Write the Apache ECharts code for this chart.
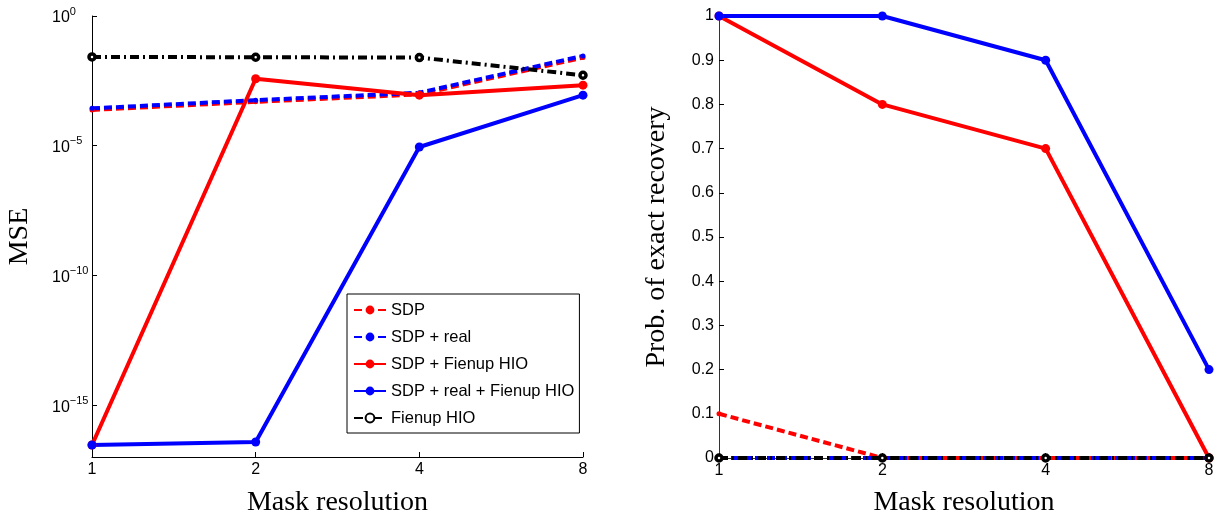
<!DOCTYPE html>
<html>
<head>
<meta charset="utf-8">
<script src="https://cdn.jsdelivr.net/npm/echarts@6/dist/echarts.min.js"></script>
<style>
html,body{margin:0;padding:0;background:#fff;}
#chart{width:1225px;height:525px;}
</style>
</head>
<body>
<div id="chart"></div>
<script>
// ---- data ----
const maskResolutions = ['1', '2', '4', '8'];
const seriesNames = ['SDP', 'SDP + real', 'SDP + Fienup HIO', 'SDP + real + Fienup HIO', 'Fienup HIO'];

// MSE (left panel, log scale)
const mseSDP            = [2.4e-4, 4.9e-4, 9.5e-4, 2.5e-2];
const mseSDPReal        = [2.75e-4, 5.7e-4, 1.1e-3, 2.9e-2];
const mseSDPFienup      = [2.9e-17, 3.8e-3, 8.9e-4, 2.16e-3];
const mseSDPRealFienup  = [2.9e-17, 3.8e-17, 8.9e-6, 8.9e-4];
const mseFienup         = [2.65e-2, 2.57e-2, 2.5e-2, 5.2e-3];
const mseTickValues     = [1e-15, 1e-10, 1e-5, 1];

// Probability of exact recovery (right panel)
const probSDP           = [0.1, 0, 0, 0];
const probSDPReal       = [0, 0, 0, 0];
const probSDPFienup     = [1, 0.8, 0.7, 0];
const probSDPRealFienup = [1, 1, 0.9, 0.2];
const probFienup        = [0, 0, 0, 0];

// ---- styles ----
const styles = [
  { color: '#ff0000', fill: '#ff0000', type: [8, 4], width: 4, size: 5, border: 0 },
  { color: '#0000ff', fill: '#0000ff', type: [8, 4], width: 4, size: 5, border: 0 },
  { color: '#ff0000', fill: '#ff0000', type: 'solid', width: 4, size: 9, border: 0 },
  { color: '#0000ff', fill: '#0000ff', type: 'solid', width: 4, size: 9, border: 0 },
  { color: '#000000', fill: '#ffffff', type: [9, 4, 2, 4], width: 4, size: 6, border: 3.5 }
];

const mseData = [mseSDP, mseSDPReal, mseSDPFienup, mseSDPRealFienup, mseFienup];
const probData = [probSDP, probSDPReal, probSDPFienup, probSDPRealFienup, probFienup];

function makeSeries(dataArr, axisIndex) {
  return dataArr.map((d, i) => {
    const s = styles[i];
    return {
      name: seriesNames[i],
      type: 'line',
      xAxisIndex: axisIndex,
      yAxisIndex: axisIndex,
      data: d,
      symbol: 'circle',
      symbolSize: s.size,
      showAllSymbol: true,
      clip: true,
      animation: false,
      lineStyle: { color: s.color, width: s.width, type: s.type, cap: 'butt' },
      itemStyle: { color: s.fill, borderColor: s.color, borderWidth: s.border },
      emphasis: { disabled: true }
    };
  });
}

const sansFont = '"Liberation Sans", Arial, Helvetica, sans-serif';
const serifFont = '"Liberation Serif", "Times New Roman", serif';
const supMinus = '\u2212';

const chart = echarts.init(document.getElementById('chart'), null, { renderer: 'canvas' });

const xAxisCommon = {
  type: 'category',
  data: maskResolutions,
  boundaryGap: false,
  name: 'Mask resolution',
  nameLocation: 'middle',
  nameMoveOverlap: false,
  nameTextStyle: { fontFamily: serifFont, fontSize: 28, color: '#000', align: 'center', verticalAlign: 'middle' },
  axisLine: { show: true, lineStyle: { color: '#000', width: 1 } },
  axisTick: { show: true, inside: true, length: 5, lineStyle: { color: '#000' } },
  axisLabel: { fontFamily: sansFont, fontSize: 16, color: '#000', margin: 5 },
  splitLine: { show: false }
};

const option = {
  backgroundColor: '#ffffff',
  animation: false,
  grid: [
    { left: 92, top: 16, width: 491, height: 441, outerBoundsMode: 'none', containLabel: false },
    { left: 719, top: 16, width: 490, height: 442, outerBoundsMode: 'none', containLabel: false }
  ],
  legend: {
    data: seriesNames,
    orient: 'vertical',
    left: 347,
    top: 294,
    padding: [7, 5, 6, 6],
    itemGap: 9,
    itemWidth: 32,
    itemHeight: 11,
    backgroundColor: '#fff',
    borderColor: '#000',
    borderWidth: 1,
    borderRadius: 0,
    selectedMode: false,
    textStyle: { fontFamily: sansFont, fontSize: 16.5, color: '#000', lineHeight: 18 }
  },
  xAxis: [
    Object.assign({}, xAxisCommon, { gridIndex: 0, nameGap: 46 }),
    Object.assign({}, xAxisCommon, { gridIndex: 1, nameGap: 45,
      axisLine: { show: true, lineStyle: { color: '#333', width: 1 } } })
  ],
  yAxis: [
    {
      gridIndex: 0,
      type: 'log',
      logBase: 10,
      min: 1e-17,
      max: 1,
      name: 'MSE',
      nameLocation: 'middle',
      nameGap: 72,
      nameMoveOverlap: false,
      nameTextStyle: { fontFamily: serifFont, fontSize: 28, color: '#000', align: 'center', verticalAlign: 'middle' },
      axisLine: { show: true, lineStyle: { color: '#000', width: 1 } },
      axisTick: { show: true, inside: true, length: 5, customValues: mseTickValues, lineStyle: { color: '#000' } },
      minorTick: { show: false },
      splitLine: { show: false },
      axisLabel: {
        customValues: mseTickValues,
        margin: 40,
        align: 'left',
        verticalAlign: 'middle',
        formatter: function (v) {
          const e = Math.round(Math.log10(v));
          const es = e < 0 ? supMinus + String(-e) : String(e);
          return '{b|10}{s|' + es + '}';
        },
        rich: {
          b: { fontFamily: sansFont, fontSize: 16, color: '#000', lineHeight: 20, verticalAlign: 'bottom' },
          s: { fontFamily: sansFont, fontSize: 11, color: '#000', lineHeight: 8, verticalAlign: 'top' }
        }
      }
    },
    {
      gridIndex: 1,
      type: 'value',
      min: 0,
      max: 1,
      interval: 0.1,
      name: 'Prob. of exact recovery',
      nameLocation: 'middle',
      nameGap: 62,
      nameMoveOverlap: false,
      nameTextStyle: { fontFamily: serifFont, fontSize: 28, color: '#000', align: 'center', verticalAlign: 'middle' },
      axisLine: { show: true, lineStyle: { color: '#333', width: 1 } },
      axisTick: { show: true, inside: true, length: 5, lineStyle: { color: '#000' } },
      splitLine: { show: false },
      axisLabel: { fontFamily: sansFont, fontSize: 16, color: '#000', margin: 5 }
    }
  ],
  series: makeSeries(mseData, 0).concat(makeSeries(probData, 1))
};

chart.setOption(option);
</script>
</body>
</html>
